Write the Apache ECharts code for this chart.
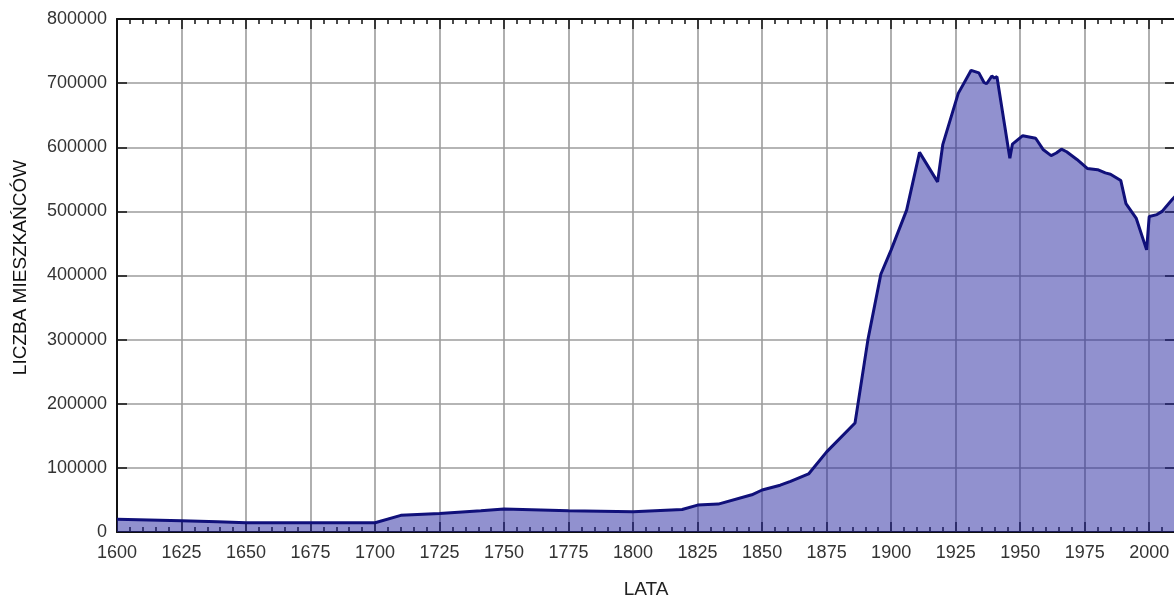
<!DOCTYPE html>
<html>
<head>
<meta charset="utf-8">
<script src="https://cdn.jsdelivr.net/npm/echarts@6/dist/echarts.min.js"></script>
<style>
  html, body { margin: 0; padding: 0; background: #fff; }
  #chart { width: 1174px; height: 600px; }
</style>
</head>
<body>
<div id="chart"></div>
<script>
// population by year
const years = [1600, 1625, 1639, 1650, 1700, 1710, 1725, 1741, 1750, 1775, 1800, 1819, 1825, 1833,
  1846, 1850, 1857, 1861, 1868, 1875, 1886, 1891, 1896, 1900, 1906, 1911, 1918, 1920, 1926, 1931,
  1934, 1936, 1937, 1939, 1940, 1941, 1946, 1947, 1951, 1956, 1959, 1962, 1964, 1966, 1968, 1972,
  1976, 1980, 1983, 1985, 1989, 1991, 1995, 1999, 2000, 2003, 2005, 2009, 2010]
const population = [20000, 17500, 16000, 14500, 14500, 26000, 29000, 33000, 36000, 33000, 31500, 35000, 42000, 43500,
  58000, 65500, 73000, 79000, 90500, 125000, 170000, 300000, 402000, 440000, 502000, 592000, 546000, 604000, 684000, 720000,
  716000, 701000, 699000, 711000, 708000, 710000, 583000, 605000, 618000, 614000, 596000, 587000, 591000, 597000, 593000, 581000,
  567000, 565000, 560000, 558000, 548000, 512000, 489000, 440000, 492000, 495000, 500000, 519000, 523000]

const xName = 'LATA'
const yName = 'LICZBA MIESZKAŃCÓW'

const font = 'Liberation Sans, Arial, sans-serif'
const axisColor = '#111'
const gridColor = '#9c9c9c'

const seriesData = years.map((y, i) => [y, population[i]])

const chart = echarts.init(document.getElementById('chart'))

const baseX = {
  type: 'value',
  min: 1600,
  max: 2010,
  interval: 25,
  axisLine: { show: true, onZero: false, lineStyle: { color: axisColor, width: 2 } },
  axisTick: { show: true, inside: true, length: 10, lineStyle: { color: axisColor, width: 1.5 } },
  minorTick: { show: true, splitNumber: 5, length: 5, lineStyle: { color: axisColor, width: 1.5 } }
}

const baseY = {
  type: 'value',
  min: 0,
  max: 800000,
  interval: 100000,
  axisLine: { show: true, lineStyle: { color: axisColor, width: 2 } },
  axisTick: { show: true, inside: true, length: 10, lineStyle: { color: axisColor, width: 1.5 } }
}

chart.setOption({
  animation: false,
  grid: { left: 117, right: -1, top: 19, bottom: 68, outerBoundsMode: 'none', containLabel: false },
  xAxis: [
    {
      ...baseX,
      position: 'bottom',
      name: xName,
      nameLocation: 'middle',
      nameGap: 48,
      nameTextStyle: { fontFamily: font, fontSize: 19, color: '#222' },
      axisLabel: {
        show: true,
        margin: 12,
        fontFamily: font,
        fontSize: 18,
        color: '#333',
        showMaxLabel: false,
        formatter: (v) => String(v)
      },
      splitLine: { show: true, lineStyle: { color: gridColor, width: 1.6 } }
    },
    {
      ...baseX,
      position: 'top',
      axisLabel: { show: false },
      splitLine: { show: false }
    }
  ],
  yAxis: [
    {
      ...baseY,
      position: 'left',
      name: yName,
      nameLocation: 'middle',
      nameGap: 87,
      nameTextStyle: { fontFamily: font, fontSize: 19, color: '#111', padding: [0, 0, 0, 16] },
      axisLabel: {
        show: true,
        margin: 10,
        fontFamily: font,
        fontSize: 18,
        color: '#333',
        formatter: (v) => String(v)
      },
      splitLine: { show: true, lineStyle: { color: gridColor, width: 1.6 } }
    },
    {
      ...baseY,
      position: 'right',
      axisLabel: { show: false },
      splitLine: { show: false }
    }
  ],
  series: [
    {
      type: 'line',
      data: seriesData,
      showSymbol: false,
      symbol: 'none',
      lineStyle: { color: '#10107a', width: 3 },
      areaStyle: { color: 'rgba(36, 36, 160, 0.5)', opacity: 1 }
    }
  ]
})
</script>
</body>
</html>
